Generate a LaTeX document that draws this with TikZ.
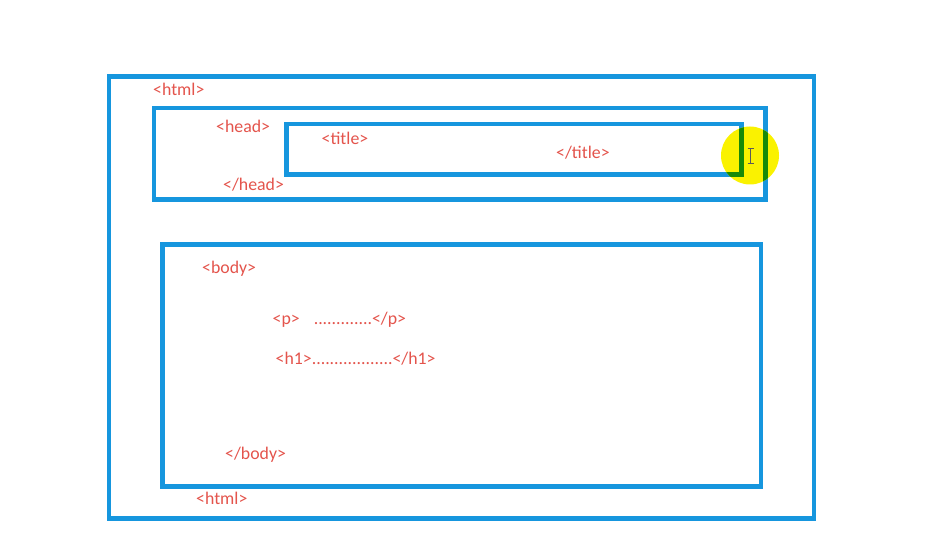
\documentclass[tikz,border=0pt]{standalone}
\usepackage{fontspec}
\setmainfont{Carlito}
\definecolor{boxblue}{RGB}{22,150,222}
\definecolor{tagred}{RGB}{228,84,76}
\definecolor{hlyellow}{RGB}{250,242,0}
\definecolor{hlgreen}{RGB}{24,138,8}
\definecolor{cursorgray}{RGB}{90,90,90}
\tikzset{
  frame/.style={draw=boxblue, line width=4.8pt},
  tag/.style={text=tagred, inner sep=0pt, anchor=base west, font=\fontsize{17.8}{20}\selectfont},
}
\begin{document}
\begin{tikzpicture}[x=1pt,y=-1pt]
\useasboundingbox[fill=white] (0,0) rectangle (939,540);
% frames
\draw[frame] (109,76.5) rectangle (814,518.5);
\draw[frame] (154,108) rectangle (765.5,199.5);
\draw[frame] (286.5,124) rectangle (741.5,174.5);
\draw[frame] (162.5,244.5) rectangle (761,486.5);
% highlight
\fill[hlyellow] (750,155.5) circle[radius=29];
\begin{scope}
  \clip (750,155.5) circle[radius=29];
  \draw[frame, draw=hlgreen] (154,108) rectangle (765.5,199.5);
  \draw[frame, draw=hlgreen] (286.5,124) rectangle (741.5,174.5);
\end{scope}
% cursor
\draw[cursorgray, line width=1pt] (750.5,148.5) -- (750.5,163.5)
  (747.5,148.5) -- (753.5,148.5) (747.5,163.5) -- (753.5,163.5);
% tags
\node[tag] (htmlopen) at (153,96) {<html>};
\node[tag] (headopen) at (216,133) {<head>};
\node[tag] (headclose) at (223,191) {</head>};
\node[tag] (titleopen) at (321.5,145) {<title>};
\node[tag] (titleclose) at (556,159) {</title>};
\node[tag] (bodyopen) at (202,273) {<body>};
\node[tag] (pline) at (272.5,324) {<p>\hspace{14pt}.............</p>};
\node[tag] (hline) at (275.5,364) {<h1>..................</h1>};
\node[tag] (bodyclose) at (225,459) {</body>};
\node[tag] (htmlclose) at (196,504) {<html>};
\end{tikzpicture}
\end{document}
